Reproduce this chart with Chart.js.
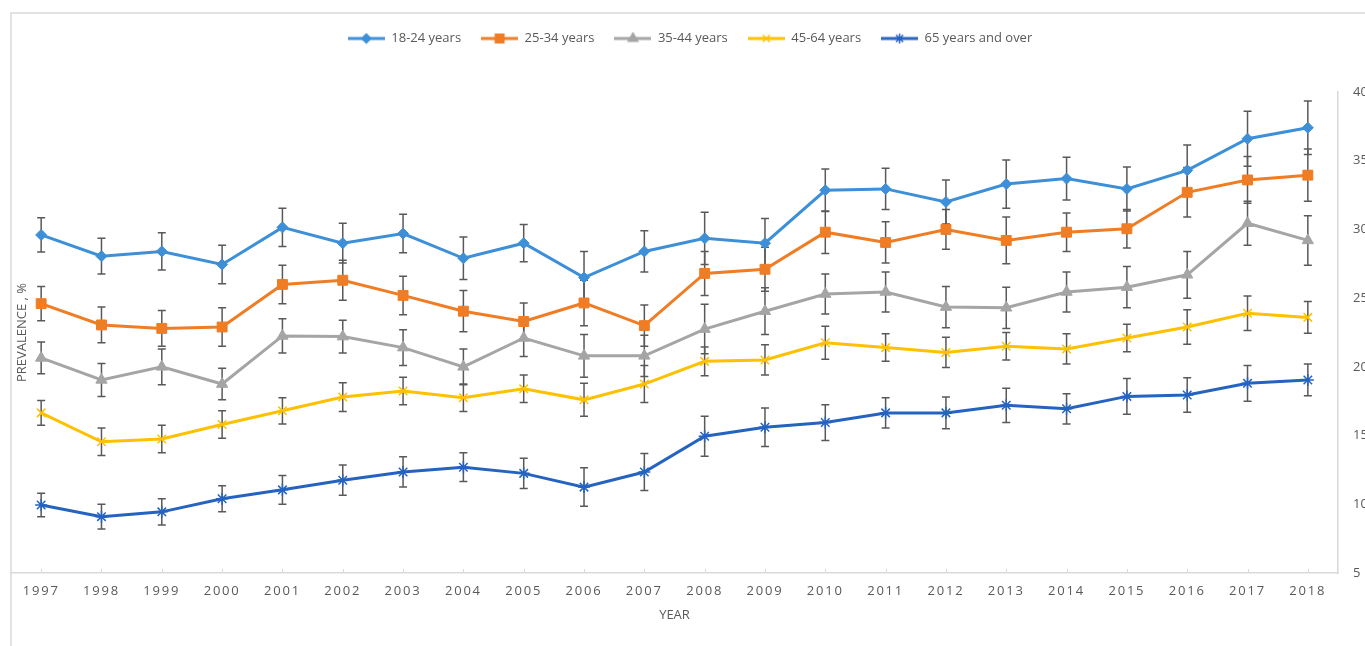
<!DOCTYPE html>
<html>
<head>
<meta charset="utf-8">
<script src="https://cdn.jsdelivr.net/npm/chart.js@4.4.0/dist/chart.umd.min.js"></script>
<style>
    html, body { margin: 0; padding: 0; overflow: hidden; background: #fff; }
    #moldura { position: absolute; left: 10px; top: 12px; width: 1400px; height: 700px;
               border-top: 2px solid #e2e2e2; border-left: 2px solid #e2e2e2; }
    #caixa { position: absolute; left: 0; top: 0; width: 1380px; height: 646px; }
</style>
</head>
<body>
<div id="moldura"></div>
<div id="caixa"><canvas id="graficoPrevalencia"></canvas></div>
<script>
    const anos = ['1997', '1998', '1999', '2000', '2001', '2002', '2003', '2004', '2005', '2006', '2007',
                  '2008', '2009', '2010', '2011', '2012', '2013', '2014', '2015', '2016', '2017', '2018'];

    const idade1824 = [29.6, 28.05, 28.4, 27.45, 30.15, 29.0, 29.7, 27.9, 29.0, 26.5, 28.4, 29.35, 29.0, 32.85, 32.95, 32.0, 33.3, 33.7, 32.95, 34.3, 36.6, 37.4];
    const erro1824 = [1.25, 1.3, 1.35, 1.4, 1.4, 1.45, 1.4, 1.55, 1.35, 1.9, 1.5, 1.9, 1.8, 1.55, 1.5, 1.6, 1.75, 1.55, 1.6, 1.85, 2.0, 1.95];

    const idade2534 = [24.6, 23.05, 22.8, 22.9, 26.0, 26.3, 25.2, 24.05, 23.3, 24.65, 23.0, 26.8, 27.1, 29.8, 29.05, 30.0, 29.2, 29.8, 30.05, 32.7, 33.6, 33.95];
    const erro2534 = [1.25, 1.3, 1.3, 1.4, 1.4, 1.45, 1.4, 1.5, 1.35, 1.65, 1.5, 1.6, 1.6, 1.55, 1.5, 1.45, 1.7, 1.4, 1.4, 1.8, 1.7, 1.9];

    const idade3544 = [20.65, 19.05, 20.0, 18.75, 22.25, 22.2, 21.4, 20.0, 22.1, 20.8, 20.8, 22.75, 24.05, 25.3, 25.45, 24.35, 24.3, 25.45, 25.8, 26.7, 30.45, 29.2];
    const erro3544 = [1.15, 1.2, 1.3, 1.15, 1.25, 1.2, 1.3, 1.3, 1.35, 1.55, 1.5, 1.8, 1.7, 1.45, 1.45, 1.5, 1.5, 1.45, 1.5, 1.7, 1.6, 1.8];

    const idade4564 = [16.65, 14.55, 14.75, 15.8, 16.8, 17.8, 18.25, 17.75, 18.4, 17.6, 18.75, 20.4, 20.5, 21.75, 21.4, 21.05, 21.5, 21.3, 22.1, 22.9, 23.9, 23.6];
    const erro4564 = [0.9, 1.0, 1.0, 1.0, 0.95, 1.05, 1.0, 1.0, 1.0, 1.2, 1.35, 1.05, 1.1, 1.2, 1.0, 1.1, 1.0, 1.1, 1.0, 1.25, 1.25, 1.15];

    const idade65 = [9.95, 9.1, 9.45, 10.4, 11.05, 11.75, 12.35, 12.7, 12.25, 11.25, 12.35, 14.95, 15.6, 15.95, 16.65, 16.65, 17.2, 16.95, 17.85, 17.95, 18.8, 19.05];
    const erro65 = [0.85, 0.9, 0.95, 0.95, 1.05, 1.1, 1.1, 1.05, 1.1, 1.4, 1.35, 1.45, 1.4, 1.3, 1.1, 1.15, 1.25, 1.1, 1.3, 1.25, 1.3, 1.15];

    const ticksY = [5, 10, 15, 20, 25, 30, 35, 40];

    const cinzaTexto = '#595959';
    const cinzaEixo = '#d9d9d9';

    // icone da legenda: linha com o marcador no meio (estilo Excel)
    function iconeLegenda(cor, estilo, raio) {
        const c = document.createElement('canvas');
        c.width = 37;
        c.height = 14;
        const ctx = c.getContext('2d');
        ctx.strokeStyle = cor;
        ctx.lineWidth = 3;
        ctx.beginPath();
        ctx.moveTo(0, 7);
        ctx.lineTo(37, 7);
        ctx.stroke();
        ctx.fillStyle = cor;
        ctx.lineWidth = 1.5;
        Chart.helpers.drawPoint(ctx, { pointStyle: estilo, radius: raio, rotation: 0, borderWidth: 1.5 }, 18.5, 7);
        return c;
    }

    const barrasErro = {
        id: 'barrasErro',
        beforeDatasetsDraw(chart) {
            const ctx = chart.ctx;
            const y = chart.scales.y;
            ctx.save();
            ctx.strokeStyle = cinzaTexto;
            ctx.lineWidth = 1.5;
            chart.data.datasets.forEach((ds, i) => {
                const meta = chart.getDatasetMeta(i);
                if (meta.hidden) return;
                meta.data.forEach((pt, j) => {
                    const topo = y.getPixelForValue(ds.data[j] + ds.erro[j]);
                    const base = y.getPixelForValue(ds.data[j] - ds.erro[j]);
                    ctx.beginPath();
                    ctx.moveTo(pt.x, topo); ctx.lineTo(pt.x, base);
                    ctx.moveTo(pt.x - 4, topo); ctx.lineTo(pt.x + 4, topo);
                    ctx.moveTo(pt.x - 4, base); ctx.lineTo(pt.x + 4, base);
                    ctx.stroke();
                });
            });
            ctx.restore();
        }
    };

    const ajustes = {
        id: 'ajustes',
        beforeInit(chart) {
            // espaco entre legenda e area do grafico
            const fitOriginal = chart.legend.fit;
            chart.legend.fit = function () {
                fitOriginal.bind(chart.legend)();
                this.height = 80;
            };
        },
        afterLayout(chart) {
            // anos com letras espacadas
            const x = chart.scales.x;
            if (!x._espacado) {
                const desenhaOriginal = x.drawLabels.bind(x);
                x.drawLabels = function (area) {
                    this.ctx.save();
                    this.ctx.letterSpacing = '1.8px';
                    desenhaOriginal(area);
                    this.ctx.restore();
                };
                x._espacado = true;
            }
        },
        afterDraw(chart) {
            // pequenos tracos do eixo x, para cima
            const ctx = chart.ctx;
            const x = chart.scales.x;
            ctx.save();
            ctx.strokeStyle = cinzaEixo;
            ctx.lineWidth = 1;
            anos.forEach((a, i) => {
                const px = Math.round(x.getPixelForValue(i)) + 0.5;
                ctx.beginPath();
                ctx.moveTo(px, x.top);
                ctx.lineTo(px, x.top - 4);
                ctx.stroke();
            });
            ctx.restore();
        }
    };

    const grafico = document.getElementById('graficoPrevalencia');

    new Chart(grafico, {
        type: 'line',
        data: {
            labels: anos,
            datasets: [{
                label: '18-24 years',
                data: idade1824,
                erro: erro1824,
                borderColor: '#3d8fd8',
                backgroundColor: '#3d8fd8',
                borderWidth: 3,
                pointStyle: 'rectRot',
                pointRadius: 5.5,
                pointBorderWidth: 1,
                tension: 0
            },
            {
                label: '25-34 years',
                data: idade2534,
                erro: erro2534,
                borderColor: '#f07c24',
                backgroundColor: '#f07c24',
                borderWidth: 3,
                pointStyle: 'rect',
                pointRadius: 7,
                pointBorderWidth: 1,
                tension: 0
            },
            {
                label: '35-44 years',
                data: idade3544,
                erro: erro3544,
                borderColor: '#a5a5a5',
                backgroundColor: '#a5a5a5',
                borderWidth: 3,
                pointStyle: 'triangle',
                pointRadius: 6.5,
                pointBorderWidth: 1,
                tension: 0
            },
            {
                label: '45-64 years',
                data: idade4564,
                erro: erro4564,
                borderColor: '#ffc000',
                backgroundColor: '#ffc000',
                borderWidth: 3,
                pointStyle: 'crossRot',
                pointRadius: 6,
                pointBorderWidth: 1.5,
                tension: 0
            },
            {
                label: '65 years and over',
                data: idade65,
                erro: erro65,
                borderColor: '#2563c0',
                backgroundColor: '#2563c0',
                borderWidth: 3,
                pointStyle: 'star',
                pointRadius: 6,
                pointBorderWidth: 1.5,
                tension: 0
            }]
        },
        options: {
            responsive: true,
            maintainAspectRatio: false,
            animation: false,
            layout: {
                padding: { top: 12, left: 0, right: 0, bottom: 0 }
            },
            plugins: {
                legend: {
                    display: true,
                    position: 'top',
                    labels: {
                        usePointStyle: true,
                        pointStyleWidth: 37,
                        boxHeight: 12,
                        padding: 20,
                        color: cinzaTexto,
                        font: { family: 'Open Sans', size: 13 },
                        generateLabels(chart) {
                            const itens = Chart.defaults.plugins.legend.labels.generateLabels(chart);
                            itens.forEach((item, i) => {
                                const ds = chart.data.datasets[i];
                                item.pointStyle = iconeLegenda(ds.borderColor, ds.pointStyle, ds.pointRadius - 1);
                            });
                            return itens;
                        }
                    }
                },
                tooltip: { enabled: false }
            },
            scales: {
                x: {
                    offset: true,
                    grid: {
                        display: false,
                        drawTicks: false
                    },
                    border: {
                        display: true,
                        color: cinzaEixo,
                        width: 1.5
                    },
                    ticks: {
                        padding: 10,
                        color: cinzaTexto,
                        maxRotation: 0,
                        autoSkip: false,
                        font: { family: 'Open Sans', size: 13 }
                    },
                    title: {
                        display: true,
                        text: 'YEAR',
                        color: cinzaTexto,
                        font: { family: 'Open Sans', size: 13 },
                        padding: { top: 0, bottom: 23 }
                    },
                    afterFit(s) { s.height = 73; }
                },
                y: {
                    position: 'right',
                    min: 5,
                    max: 40,
                    afterBuildTicks(s) { s.ticks = ticksY.map(v => ({ value: v })); },
                    grid: {
                        display: false,
                        drawTicks: false
                    },
                    border: {
                        display: true,
                        color: cinzaEixo,
                        width: 1.5
                    },
                    ticks: {
                        padding: 15,
                        color: cinzaTexto,
                        font: { family: 'Open Sans', size: 13 }
                    },
                    afterFit(s) { s.width = 42; }
                },
                tituloY: {
                    type: 'linear',
                    position: 'left',
                    grid: { display: false, drawTicks: false },
                    border: { display: false },
                    ticks: { display: false },
                    title: {
                        display: true,
                        text: 'PREVALENCE , %',
                        color: cinzaTexto,
                        font: { family: 'Open Sans', size: 13 },
                        padding: { top: 14, bottom: 0 }
                    },
                    afterFit(s) { s.width = 11; }
                }
            }
        },
        plugins: [barrasErro, ajustes]
    });
</script>
</body>
</html>
